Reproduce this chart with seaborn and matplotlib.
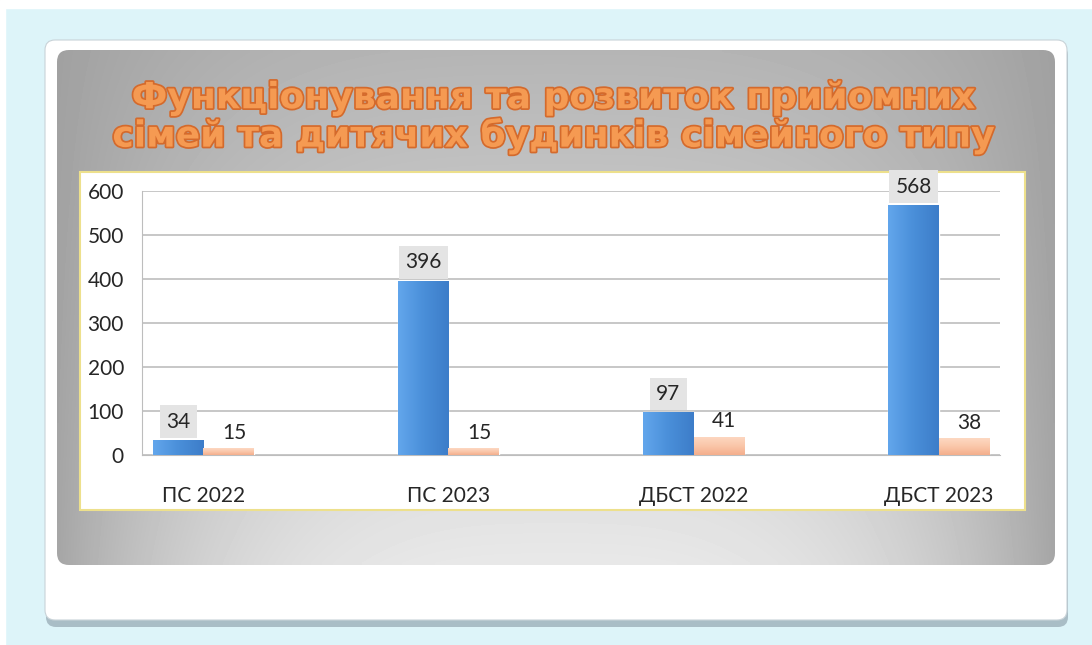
import numpy as np
import pandas as pd
import seaborn as sns
import matplotlib.pyplot as plt
from matplotlib.patches import FancyBboxPatch, Rectangle
from matplotlib.colors import LinearSegmentedColormap
import matplotlib.patheffects as pe

# data
categories = ["ПС 2022", "ПС 2023", "ДБСТ 2022", "ДБСТ 2023"]
series_names = ["ряд 1", "ряд 2"]
values_blue = [34, 396, 97, 568]
values_peach = [15, 15, 41, 38]
y_ticks = [0, 100, 200, 300, 400, 500, 600]
title_lines = ["Функціонування та розвиток прийомних",
               "сімей та дитячих будинків сімейного типу"]

BLUE = "#4A8FD9"
PEACH = "#F8BE9E"

df = pd.DataFrame({
    "category": categories * 2,
    "series": [series_names[0]] * 4 + [series_names[1]] * 4,
    "value": values_blue + values_peach,
})

# empty slots between the categories, as in the original chart
order = [categories[0], " ", categories[1], "  ", categories[2], "   ", categories[3]]

sns.set_style("white")
plt.rcParams["font.family"] = ["Lato", "DejaVu Sans"]

W, H = 1092, 645
fig = plt.figure(figsize=(W / 100, H / 100), dpi=100)

# background in pixel coordinates
bg = fig.add_axes([0, 0, 1, 1], zorder=0)
bg.set_xlim(0, W)
bg.set_ylim(H, 0)
bg.axis("off")
bg.add_patch(Rectangle((0, 0), W, H, color="#DDF4F9", zorder=0.1))
bg.add_patch(Rectangle((0, 0), W, 8, color="white", zorder=0.2))
bg.add_patch(Rectangle((0, 0), 5, H, color="white", zorder=0.2))

# card with shadow
bg.add_patch(FancyBboxPatch((46, 45), 1022, 582, boxstyle="round,pad=0,rounding_size=10",
                            facecolor="#A9BDC6", edgecolor="none", zorder=0.3))
bg.add_patch(FancyBboxPatch((45, 40), 1022, 580, boxstyle="round,pad=0,rounding_size=10",
                            facecolor="white", edgecolor="#C9D3D8", linewidth=0.8, zorder=0.4))

# gray gradient panel
panel = FancyBboxPatch((57, 50), 998, 515, boxstyle="round,pad=0,rounding_size=12",
                       facecolor="none", edgecolor="none", zorder=0.5)
bg.add_patch(panel)
gy, gx = np.mgrid[0:1:120j, 0:1:300j]
shade = 0.71 + 0.20 * gy - (0.08 + 0.18 * gy) * np.abs(2 * gx - 1) ** 3
img = bg.imshow(shade, cmap="gray", vmin=0, vmax=1, extent=(57, 1055, 565, 50),
                aspect="auto", origin="upper", interpolation="bilinear", zorder=0.6)
img.set_clip_path(panel)

# plot area
bg.add_patch(Rectangle((80, 172), 945, 338, facecolor="white", edgecolor="#EDE08C",
                       linewidth=1.5, zorder=0.8))

# title
for i, line in enumerate(title_lines):
    bg.text(553, 98 + i * 38, line, ha="center", va="center", fontsize=26,
            fontweight="bold", color="#F59A52", family="DejaVu Sans", zorder=1,
            path_effects=[pe.withStroke(linewidth=2.5, foreground="#D46A2C")])

# chart
ax = fig.add_axes([142 / W, 1 - 455 / H, 858 / W, 264 / H], zorder=1)
ax.patch.set_alpha(0)
sns.barplot(data=df, x="category", y="value", hue="series", order=order,
            hue_order=series_names, palette=[BLUE, PEACH], width=0.82,
            saturation=1, legend=False, ax=ax, zorder=3)

ax.set_ylim(0, 600)
ax.set_xlim(-0.5, len(order) - 0.5)
ax.set_yticks(y_ticks)
ax.set_xlabel("")
ax.set_ylabel("")
ax.grid(axis="y", color="#BDBDBD", linewidth=1.2, zorder=0)
ax.set_axisbelow(True)
for s in ["top", "right"]:
    ax.spines[s].set_visible(False)
ax.spines["left"].set_color("#BDBDBD")
ax.spines["bottom"].set_color("#BDBDBD")
ax.tick_params(axis="y", length=7, color="#BDBDBD", labelsize=15, labelcolor="#262626", pad=6)
ax.tick_params(axis="x", which="major", length=0, labelsize=15, labelcolor="#262626", pad=22)
ax.set_xticks(np.arange(-0.5, len(order), 1), minor=True)
ax.tick_params(axis="x", which="minor", length=7, color="#BDBDBD")

# soft gradient fill on the bars
blue_cmap = LinearSegmentedColormap.from_list("b", ["#62A6EC", "#4A8FD9", "#3D7DC9"])
peach_cmap = LinearSegmentedColormap.from_list("p", ["#F4AE8C", "#FAC7AA", "#FDD8C2"])
for container, cmap, vertical in zip(ax.containers, [blue_cmap, peach_cmap], [False, True]):
    for bar in container:
        h = bar.get_height()
        if np.isnan(h):
            continue
        grad = np.linspace(0, 1, 64)
        grad = grad.reshape(-1, 1) if vertical else grad.reshape(1, -1)
        x0 = bar.get_x()
        im = ax.imshow(grad, cmap=cmap, extent=(x0, x0 + bar.get_width(), 0, h),
                       aspect="auto", origin="lower", zorder=3.5)
        im.set_clip_path(bar)

ax.set_xlim(-0.5, len(order) - 0.5)
ax.set_ylim(0, 600)

# value labels
for container, color in zip(ax.containers, [BLUE, PEACH]):
    for bar in container:
        h = bar.get_height()
        if np.isnan(h):
            continue
        cx = bar.get_x() + bar.get_width() / 2
        if color == BLUE:
            ax.annotate(f"{int(h)}", (cx, h), xytext=(0, 6), textcoords="offset points",
                        ha="center", va="bottom", fontsize=15, color="#262626",
                        bbox=dict(boxstyle="square,pad=0.3", facecolor="#E4E4E4", edgecolor="none"),
                        annotation_clip=False, zorder=5)
        else:
            ax.annotate(f"{int(h)}", (cx, h), xytext=(4, 4), textcoords="offset points",
                        ha="center", va="bottom", fontsize=15, color="#262626",
                        annotation_clip=False, zorder=5)

fig.savefig("out.png", dpi=100)
